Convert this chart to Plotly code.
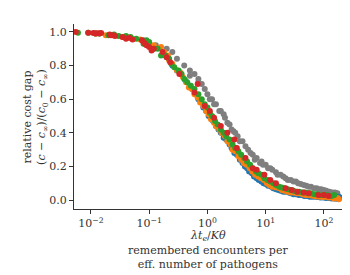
import plotly.graph_objects as go

# ---- data ----
gray_x = [0.08, 0.1, 0.13, 0.2, 0.25, 0.3, 0.4, 0.5, 0.6, 0.7, 0.8, 1.0, 1.2, 1.4, 1.7, 2.0, 2.4, 2.8, 3.3, 4.0,
          5.0, 6.0, 7.0, 8.5, 10, 12, 15, 18, 22, 27, 33, 40, 50, 60, 75, 90, 110, 140, 170,
          0.5, 0.7, 0.9, 1.1, 1.3, 1.6, 1.9, 2.2, 2.6, 3.0, 3.6, 4.5, 5.5, 6.5, 8, 9, 11, 13, 16, 20,
          24, 30, 36, 45, 55, 68, 82, 100, 125, 155]
gray_y = [0.95, 0.93, 0.92, 0.90, 0.88, 0.84, 0.80, 0.77, 0.75, 0.72, 0.69, 0.63, 0.60, 0.57, 0.53, 0.49, 0.45, 0.41, 0.38, 0.35,
          0.30, 0.27, 0.25, 0.23, 0.21, 0.19, 0.165, 0.15, 0.13, 0.12, 0.11, 0.095, 0.085, 0.08, 0.07, 0.065, 0.055, 0.045, 0.04,
          0.74, 0.70, 0.66, 0.60, 0.57, 0.53, 0.51, 0.46, 0.42, 0.40, 0.35, 0.32, 0.28, 0.24, 0.22, 0.21, 0.19, 0.18, 0.15, 0.14,
          0.12, 0.11, 0.10, 0.09, 0.08, 0.07, 0.065, 0.06, 0.05, 0.045]

blue_x = [0.1, 0.2, 0.3, 0.42, 0.55, 0.7, 0.85, 1.05, 1.25, 1.55, 1.9, 2.4, 2.9, 3.6, 4.4, 5.2, 6.3, 7.6, 9.2, 11,
          13.5, 16.5, 20, 25, 30, 37, 46, 57, 70, 87, 108, 135, 165, 190,
          0.25, 0.35, 0.5, 0.62, 0.78, 0.95, 1.15, 1.4, 1.7, 2.1, 2.6, 3.2, 4.0, 4.8, 5.8, 7, 8.4, 10, 12.5, 15,
          18, 22, 27, 33, 41, 51, 63, 78, 96, 120, 150, 180]
blue_y = [0.92, 0.85, 0.77, 0.71, 0.66, 0.60, 0.55, 0.50, 0.47, 0.42, 0.37, 0.33, 0.28, 0.24, 0.20, 0.17, 0.14, 0.12, 0.10, 0.085,
          0.07, 0.06, 0.05, 0.045, 0.035, 0.03, 0.025, 0.02, 0.02, 0.015, 0.012, 0.01, 0.008, 0.015,
          0.80, 0.75, 0.68, 0.63, 0.58, 0.53, 0.49, 0.44, 0.40, 0.36, 0.31, 0.27, 0.22, 0.19, 0.16, 0.13, 0.11, 0.095, 0.08, 0.065,
          0.055, 0.05, 0.04, 0.035, 0.03, 0.025, 0.02, 0.018, 0.015, 0.012, 0.01, 0.02]

orange_x = [0.018, 0.025, 0.05, 0.07, 0.095, 0.16, 0.18, 0.21, 0.25, 0.3, 0.38, 0.48, 0.6, 0.75, 0.95, 1.15, 1.4, 1.75, 2.2, 2.7,
            3.4, 4.2, 5.3, 6.6, 8.3, 10.5, 13, 17, 21, 27, 34, 43, 54, 68, 85, 105, 135, 170, 180,
            0.012, 0.035, 0.12, 0.22, 0.34, 0.43, 0.54, 0.68, 0.85, 1.05, 1.3, 1.6, 2.0, 2.5, 3.0, 3.8, 4.7, 5.9, 7.4, 9.3,
            11.5, 15, 19, 24, 30, 38, 48, 61, 76, 95, 120, 150]
orange_y = [0.98, 0.98, 0.96, 0.955, 0.92, 0.91, 0.88, 0.86, 0.81, 0.77, 0.73, 0.67, 0.63, 0.58, 0.53, 0.48, 0.44, 0.40, 0.35, 0.30,
            0.26, 0.22, 0.19, 0.15, 0.13, 0.10, 0.08, 0.07, 0.055, 0.045, 0.04, 0.035, 0.03, 0.025, 0.02, 0.02, 0.015, 0.012, 0.005,
            0.99, 0.97, 0.92, 0.83, 0.76, 0.70, 0.66, 0.61, 0.56, 0.51, 0.46, 0.42, 0.38, 0.33, 0.29, 0.24, 0.21, 0.17, 0.14, 0.12,
            0.09, 0.075, 0.06, 0.05, 0.045, 0.04, 0.03, 0.028, 0.022, 0.018, 0.015, 0.01]

green_x = [0.006, 0.012, 0.014, 0.02, 0.03, 0.04, 0.048, 0.08, 0.09, 0.12, 0.16, 0.22, 0.27, 0.36, 0.45, 0.6, 0.8, 1.0, 1.2, 1.5,
           1.9, 2.4, 3.0, 3.8, 4.8, 6.0, 7.5, 9.5, 12, 15, 19, 24, 30, 38, 48, 60, 75, 95, 120, 150,
           0.009, 0.025, 0.06, 0.1, 0.14, 0.19, 0.24, 0.32, 0.4, 0.52, 0.7, 0.9, 1.1, 1.35, 1.7, 2.1, 2.7, 3.4, 4.3, 5.4,
           6.8, 8.5, 10.7, 13.5, 17, 21, 27, 34, 43, 54, 68, 85, 108, 135]
green_y = [0.995, 0.99, 0.99, 0.98, 0.975, 0.975, 0.97, 0.93, 0.95, 0.90, 0.86, 0.84, 0.79, 0.75, 0.70, 0.66, 0.60, 0.55, 0.50, 0.45,
           0.40, 0.36, 0.31, 0.27, 0.23, 0.19, 0.16, 0.13, 0.11, 0.09, 0.075, 0.065, 0.055, 0.05, 0.045, 0.04, 0.035, 0.03, 0.028, 0.03,
           0.995, 0.985, 0.96, 0.94, 0.90, 0.86, 0.81, 0.77, 0.72, 0.68, 0.63, 0.57, 0.52, 0.47, 0.42, 0.38, 0.33, 0.29, 0.25, 0.21,
           0.17, 0.15, 0.12, 0.10, 0.08, 0.07, 0.06, 0.05, 0.045, 0.04, 0.035, 0.03, 0.03, 0.025]

red_x = [0.0055, 0.009, 0.011, 0.013, 0.015, 0.021, 0.024, 0.026, 0.035, 0.045, 0.052, 0.075, 0.085, 0.1, 0.11, 0.17, 0.2, 0.23,
         0.33, 0.68, 0.9, 1.3, 2.2, 2.9, 4.5, 7, 9.5, 15, 22, 35, 55, 80, 120,
         0.012, 0.014, 0.022, 0.04, 0.08, 0.09, 0.12, 0.6, 1.1, 1.7, 3.2, 6,
         12, 28, 45, 100]
red_y = [1.0, 0.995, 0.993, 0.992, 0.994, 0.985, 0.98, 0.975, 0.97, 0.965, 0.955, 0.95, 0.93, 0.91, 0.89, 0.88, 0.85, 0.82,
         0.75, 0.69, 0.56, 0.49, 0.40, 0.36, 0.25, 0.18, 0.15, 0.10, 0.07, 0.05, 0.04, 0.03, 0.025,
         0.99, 0.99, 0.98, 0.96, 0.94, 0.92, 0.90, 0.64, 0.53, 0.44, 0.31, 0.19,
         0.12, 0.06, 0.045, 0.03]

series = [
    ("#7f7f7f", gray_x, gray_y),
    ("#1f77b4", blue_x, blue_y),
    ("#ff7f0e", orange_x, orange_y),
    ("#2ca02c", green_x, green_y),
    ("#d62728", red_x, red_y),
]

x_tickvals = [0.01, 0.1, 1, 10, 100]
x_ticktext = ["10<sup>−2</sup>", "10<sup>−1</sup>", "10<sup>0</sup>", "10<sup>1</sup>", "10<sup>2</sup>"]
y_tickvals = [0.0, 0.2, 0.4, 0.6, 0.8, 1.0]

FONT = "DejaVu Serif"
AX = "#333333"

fig = go.Figure()
for color, xs, ys in series:
    fig.add_trace(go.Scatter(x=xs, y=ys, mode="markers",
                             marker=dict(color=color, size=6, line=dict(width=0)),
                             showlegend=False, hoverinfo="skip"))

fig.update_layout(
    width=350, height=275,
    margin=dict(l=66, r=16, t=16, b=74),
    paper_bgcolor="white", plot_bgcolor="white",
    font=dict(family=FONT, size=11, color="#333333"),
    showlegend=False,
)
fig.update_xaxes(type="log", range=[-2.29, 2.31], tickvals=x_tickvals, ticktext=x_ticktext,
                 showgrid=False, zeroline=False, showline=True, linecolor=AX, linewidth=1.2,
                 ticks="outside", ticklen=4, tickwidth=1.2, tickcolor=AX,
                 tickfont=dict(family=FONT, size=11))
fig.update_yaxes(range=[-0.053, 1.047], tickvals=y_tickvals, tickformat=".1f",
                 showgrid=False, zeroline=False, showline=True, linecolor=AX, linewidth=1.2,
                 ticks="outside", ticklen=4, tickwidth=1.2, tickcolor=AX,
                 tickfont=dict(family=FONT, size=11))

# axis titles as annotations
fig.add_annotation(x=0.5, y=-0.146, xref="paper", yref="paper", xanchor="center", yanchor="middle",
                   text="<i>λt</i><sub><i>e</i></sub>/<i>Kθ</i>", showarrow=False,
                   font=dict(family=FONT, size=11))
fig.add_annotation(x=0.5, y=-0.262, xref="paper", yref="paper", xanchor="center", yanchor="middle",
                   text="remembered encounters per<br>eff. number of pathogens", showarrow=False,
                   font=dict(family=FONT, size=11))
fig.add_annotation(x=-0.144, y=0.5, xref="paper", yref="paper", xanchor="center", yanchor="middle",
                   text="relative cost gap<br>(<i>c</i> − <i>c</i><sub>∞</sub>)/(<i>c</i><sub>0</sub> − <i>c</i><sub>∞</sub>)",
                   textangle=-90, showarrow=False, font=dict(family=FONT, size=11))

fig.write_html("out.html")
